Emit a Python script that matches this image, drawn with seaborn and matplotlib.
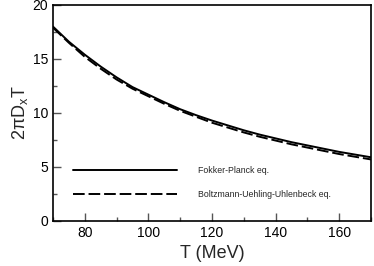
import numpy as np
import matplotlib
matplotlib.use('Agg')
import matplotlib.pyplot as plt
import pandas as pd
import seaborn as sns
from matplotlib.ticker import MultipleLocator

# 读取自图中的数据
T = [70, 75, 80, 85, 90, 95, 100, 105, 110, 115, 120, 125, 130, 135, 140, 145, 150, 155, 160, 165, 170]
fp = [18.0, 16.6, 15.4, 14.3, 13.3, 12.4, 11.7, 11.0, 10.35, 9.8, 9.3, 8.85, 8.4, 8.0, 7.65, 7.3, 7.0, 6.7, 6.4, 6.15, 5.9]
buu = [17.9, 16.5, 15.2, 14.1, 13.1, 12.25, 11.55, 10.85, 10.2, 9.65, 9.1, 8.65, 8.2, 7.8, 7.45, 7.1, 6.8, 6.5, 6.2, 5.95, 5.7]
labels = ['Fokker-Planck eq.', 'Boltzmann-Uehling-Uhlenbeck eq.']

df = pd.DataFrame({'T': T * 2, 'val': fp + buu,
                   'kind': [labels[0]] * len(T) + [labels[1]] * len(T)})

sns.set_style('ticks')
plt.rcParams['font.family'] = ['Liberation Sans', 'DejaVu Sans']
plt.rcParams['mathtext.fontset'] = 'custom'
plt.rcParams['mathtext.rm'] = 'Liberation Sans'
plt.rcParams['mathtext.it'] = 'Liberation Sans'

fig = plt.figure(figsize=(3.74, 2.66), dpi=100)
ax = fig.add_axes([53/374, 45/266, 318/374, 216/266])

sns.lineplot(data=df, x='T', y='val', hue='kind', style='kind',
             palette=['black', 'black'], dashes=[(None, None), (6, 2)],
             linewidth=1.4, ax=ax)

ax.set_xlim(70, 170)
ax.set_ylim(0, 20)
ax.xaxis.set_major_locator(MultipleLocator(20))
ax.xaxis.set_minor_locator(MultipleLocator(10))
ax.yaxis.set_major_locator(MultipleLocator(5))
ax.yaxis.set_minor_locator(MultipleLocator(2.5))
ax.tick_params(which='both', direction='in', colors='#555555', labelcolor='black', labelsize=10)
ax.tick_params(which='major', length=6, width=1)
ax.tick_params(which='minor', length=3, width=1)
for s in ax.spines.values():
    s.set_linewidth(1.2)
    s.set_color('black')

ax.set_xlabel('T (MeV)', fontsize=13, labelpad=4)
ax.set_ylabel(r'2$\pi$D$_\mathrm{x}$T', fontsize=13, labelpad=2)

leg = ax.legend(loc='lower left', bbox_to_anchor=(0.053, 0.085), frameon=False,
                fontsize=6.3, handlelength=11.9, handletextpad=2.3, labelspacing=1.78,
                borderaxespad=0)

fig.savefig('out.png', dpi=100)
